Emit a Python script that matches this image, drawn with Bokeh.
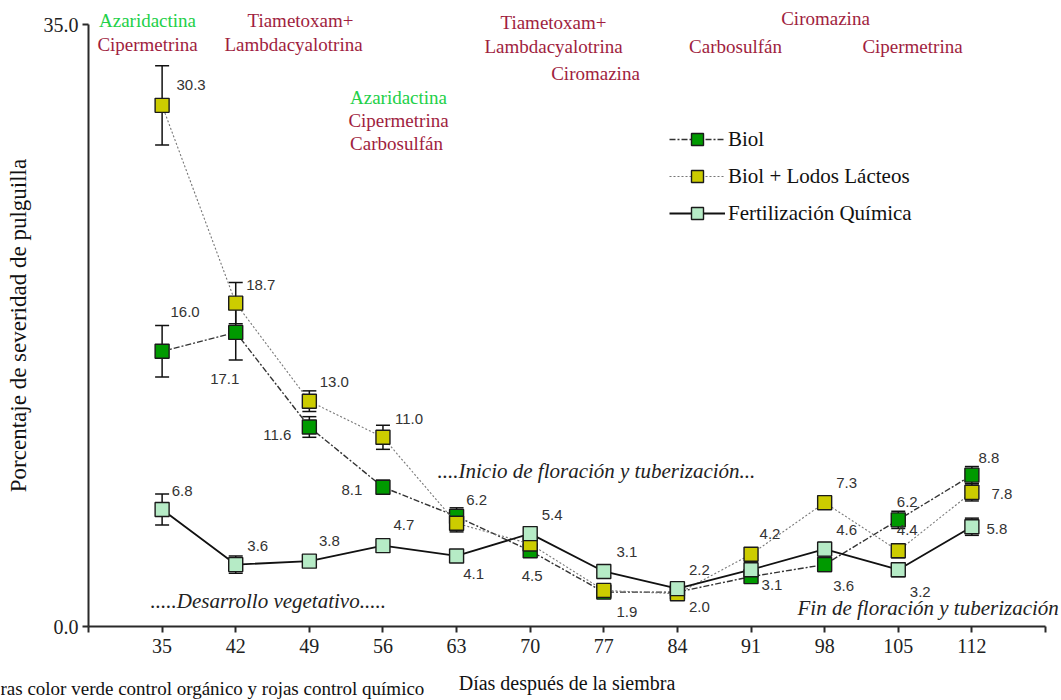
from bokeh.plotting import figure
from bokeh.models import (ColumnDataSource, Whisker, TeeHead, Label, LabelSet,
                          FixedTicker, Range1d)
from bokeh.core.properties import value
from bokeh.embed import file_html
from bokeh.resources import INLINE

# ---------------- data ----------------
days = [35, 42, 49, 56, 63, 70, 77, 84, 91, 98, 105, 112]
biol = [16.0, 17.1, 11.6, 8.1, 6.4, 4.4, 2.0, 2.0, 2.9, 3.6, 6.2, 8.8]
biol_err = [1.5, 1.6, 0.6, 0.4, 0.5, 0.3, 0.3, 0.2, 0.3, 0.4, 0.5, 0.5]
biol_ll = [30.3, 18.8, 13.1, 11.0, 6.0, 4.8, 2.1, 1.9, 4.2, 7.2, 4.4, 7.8]
biol_ll_err = [2.3, 1.2, 0.6, 0.7, 0.5, 0.3, 0.3, 0.2, 0.3, 0.4, 0.4, 0.5]
fert = [6.8, 3.6, 3.8, 4.7, 4.1, 5.4, 3.2, 2.2, 3.3, 4.5, 3.3, 5.8]
fert_err = [0.9, 0.5, 0.3, 0.2, 0.2, 0.3, 0.3, 0.2, 0.3, 0.4, 0.4, 0.5]

series_names = ["Biol", "Biol + Lodos Lácteos", "Fertilización Química"]

x_ticks = [28, 35, 42, 49, 56, 63, 70, 77, 84, 91, 98, 105, 112, 119]
y_ticks = [0, 35]
y_tick_labels = ["0.0", "35.0"]

# value labels: text, day, series anchor
lab_text = ["30.3", "16.0", "17.1", "18.7", "13.0", "11.6", "11.0", "8.1",
            "6.8", "3.6", "3.8", "4.7", "6.2", "4.1", "5.4", "4.5",
            "3.1", "1.9", "2.2", "2.0", "4.2", "3.1", "7.3", "4.6", "3.6",
            "6.2", "4.4", "3.2", "8.8", "7.8", "5.8"]
lab_day = [35, 35, 42, 42, 49, 49, 56, 56,
           35, 42, 49, 56, 63, 63, 70, 70,
           77, 77, 84, 84, 91, 91, 98, 98, 98,
           105, 105, 105, 112, 112, 112]
lab_series = ["ll", "b", "b", "ll", "ll", "b", "ll", "b",
              "f", "f", "f", "f", "b", "f", "f", "b",
              "f", "b", "f", "b", "ll", "b", "ll", "f", "b",
              "b", "ll", "f", "b", "ll", "f"]

# treatment annotations (text, colour kind)
treat_text = ["Azaridactina", "Cipermetrina", "Tiametoxam+", "Lambdacyalotrina",
              "Azaridactina", "Cipermetrina", "Carbosulfán",
              "Tiametoxam+", "Lambdacyalotrina", "Ciromazina",
              "Ciromazina", "Carbosulfán", "Cipermetrina"]
treat_kind = ["org", "chem", "chem", "chem",
              "org", "chem", "chem",
              "chem", "chem", "chem",
              "chem", "chem", "chem"]

phase_text = ["....Inicio de floración y tuberización...",
              ".....Desarrollo vegetativo.....",
              "Fin de floración y tuberización"]

caption = "ras color verde control orgánico y rojas control químico"

# ---------------- layout / style ----------------
W, H = 1061, 700
AX_L, AX_R, AX_T, AX_B = 88, 1045, 24, 626     # axis box of the reference, px
X0, X1, Y0, Y1 = 28, 119, 0, 35
KX = (X1 - X0) / (AX_R - AX_L)
KY = (Y1 - Y0) / (AX_B - AX_T)

def px2x(px):
    return X0 + (px - AX_L) * KX

def py2y(py):
    return Y0 + (AX_B - py) * KY

SERIF = "Liberation Serif"
SANS = "Liberation Sans"
RED = "#A01E40"
GRN = "#22D048"

p = figure(width=W, height=H, output_backend="svg", toolbar_location=None,
           x_range=Range1d(px2x(0), px2x(W)), y_range=Range1d(py2y(H), py2y(0)),
           min_border_left=0, min_border_right=0,
           min_border_top=0, min_border_bottom=0)
p.outline_line_color = None
p.xgrid.visible = False
p.ygrid.visible = False
p.background_fill_color = "white"

# axes drawn at fixed data locations, lines limited to the data box
p.xaxis.fixed_location = Y0
p.yaxis.fixed_location = X0
p.xaxis.bounds = (X0, X1)
p.yaxis.bounds = (Y0, Y1)
p.xaxis.ticker = FixedTicker(ticks=x_ticks)
p.xaxis.major_label_overrides = {x_ticks[0]: "", x_ticks[-1]: ""}
p.yaxis.ticker = FixedTicker(ticks=y_ticks)
p.yaxis.major_label_overrides = {t: l for t, l in zip(y_ticks, y_tick_labels)}
for ax in (p.xaxis, p.yaxis):
    ax.axis_line_color = "#2a2a2a"
    ax.axis_line_width = 2
    ax.major_tick_line_color = "#2a2a2a"
    ax.major_tick_line_width = 2
    ax.major_tick_in = 0
    ax.major_tick_out = 6
    ax.minor_tick_line_color = None
    ax.major_label_text_font = SERIF
    ax.major_label_text_color = "#222222"
    ax.axis_label_text_font = SERIF
    ax.axis_label_text_font_style = "normal"
    ax.axis_label_text_color = "#111111"
p.xaxis.major_label_text_font_size = "20px"
p.yaxis.major_label_text_font_size = "20px"
p.xaxis.major_label_standoff = 6
p.yaxis.major_label_standoff = 4
p.xaxis.axis_label = "Días después de la siembra"
p.yaxis.axis_label = "Porcentaje de severidad de pulguilla"
p.xaxis.axis_label_text_font_size = "20px"
p.yaxis.axis_label_text_font_size = "23px"
p.xaxis.axis_label_standoff = 16
p.yaxis.axis_label_standoff = 10

vals = {"b": biol, "ll": biol_ll, "f": fert}
errs = {"b": biol_err, "ll": biol_ll_err, "f": fert_err}
styles = {
    "b": dict(line_color="#333333", line_width=1.4, line_dash="6 2 2 2", fill="#009A00"),
    "ll": dict(line_color="#777777", line_width=1.1, line_dash="2 2", fill="#CCCC00"),
    "f": dict(line_color="#111111", line_width=1.8, line_dash="solid", fill="#B6EBC6"),
}
order = ["b", "ll", "f"]
names = dict(zip(order, series_names))

for k in order:
    v, e = vals[k], errs[k]
    src = ColumnDataSource(dict(x=days, y=v,
                                lo=[a - b for a, b in zip(v, e)],
                                hi=[a + b for a, b in zip(v, e)]))
    st = styles[k]
    wk = Whisker(source=src, base="x", lower="lo", upper="hi", dimension="height",
                 line_color="#111111", line_width=1.5, level="underlay",
                 lower_head=TeeHead(size=14, line_width=1.5, line_color="#111111"),
                 upper_head=TeeHead(size=14, line_width=1.5, line_color="#111111"))
    p.add_layout(wk)
    p.line("x", "y", source=src, line_color=st["line_color"], line_width=st["line_width"],
           line_dash=st["line_dash"], legend_label=names[k])
    p.scatter("x", "y", source=src, marker="square", size=14, fill_color=st["fill"],
              line_color="#1a1a1a", line_width=1.4, legend_label=names[k])

# value labels
lab_dx = [29, 23, -11, 25, 25, -32, 26, -31,
          20, 22, 20, 21, 20, 17, 22, 2,
          23, 23, 22, 22, 19, 21, 22, 22, 19,
          9, 9, 22, 17, 30, 25]
lab_dy = [20, 39, -47, 18, 19, -8, 18, -3,
          19, 19, 20, 21, 16, -18, 19, -25,
          19, -20, 19, -15, 20, -8, 20, 19, -21,
          18, 21, -22, 17, -2, -2]
lab_y = [vals[s][days.index(d)] for s, d in zip(lab_series, lab_day)]
lsrc = ColumnDataSource(dict(x=lab_day, y=lab_y, text=lab_text, dx=lab_dx, dy=lab_dy))
p.add_layout(LabelSet(source=lsrc, x="x", y="y", text="text", x_offset="dx", y_offset="dy",
                      text_font=value(SANS), text_font_size=value("15px"),
                      text_color=value("#333333"),
                      text_align=value("center"), text_baseline=value("middle")))

# treatment annotations (pixel placement of the reference)
treat_px = [(147, 20), (147, 44), (300, 20), (293, 44),
            (398, 97), (398, 120), (396, 143),
            (553, 22), (553, 46), (595, 73),
            (825, 18), (735, 46), (912, 46)]
for t, kd, (cx, cy) in zip(treat_text, treat_kind, treat_px):
    p.add_layout(Label(x=px2x(cx), y=py2y(cy), text=t, text_font=SERIF,
                       text_font_size="19px", text_color=GRN if kd == "org" else RED,
                       text_align="center", text_baseline="middle"))

phase_px = [(437, 470), (150, 600), (797, 607)]
for t, (lx, ly) in zip(phase_text, phase_px):
    p.add_layout(Label(x=px2x(lx), y=py2y(ly), text=t, text_font=SERIF,
                       text_font_size="21px", text_font_style="italic",
                       text_color="#222222", text_align="left", text_baseline="middle"))

p.add_layout(Label(x=px2x(0), y=py2y(688), text=caption, text_font=SERIF,
                   text_font_size="19px", text_color="#111111",
                   text_align="left", text_baseline="middle"))

# legend
lg = p.legend[0]
lg.location = (669, H - 228)
lg.border_line_color = None
lg.background_fill_alpha = 0
lg.padding = 0
lg.margin = 0
lg.glyph_width = 56
lg.glyph_height = 30
lg.label_height = 20
lg.spacing = 7
lg.label_standoff = 3
lg.label_text_font = SERIF
lg.label_text_font_size = "21px"
lg.label_text_color = "#111111"

open("out.html", "w").write(file_html(p, INLINE))
